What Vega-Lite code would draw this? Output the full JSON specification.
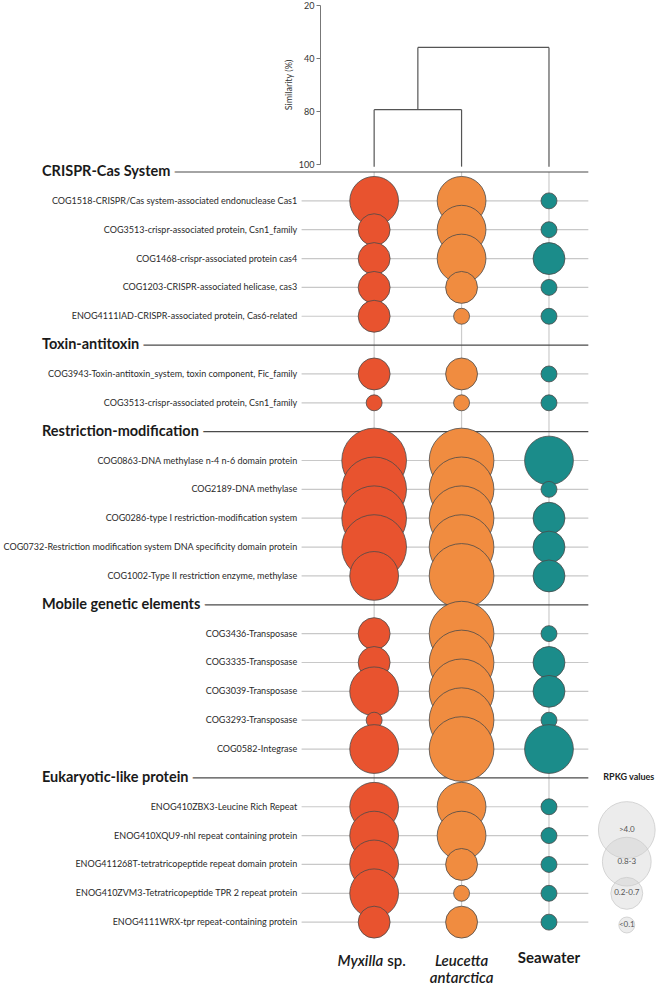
{
  "$schema": "https://vega.github.io/schema/vega-lite/v6.json",
  "width": 667,
  "height": 985,
  "padding": 0,
  "autosize": {"type": "none"},
  "background": "white",
  "config": {"view": {"stroke": null}, "font": "Lato", "text": {"font": "Lato"}},
  "datasets": {
    "functions": [
      {"category": "CRISPR-Cas System", "function": "COG1518-CRISPR/Cas system-associated endonuclease Cas1", "Myxilla": "0.8-3", "Leucetta": "0.8-3", "Seawater": "<0.1"},
      {"category": "CRISPR-Cas System", "function": "COG3513-crispr-associated protein, Csn1_family", "Myxilla": "0.2-0.7", "Leucetta": "0.8-3", "Seawater": "<0.1"},
      {"category": "CRISPR-Cas System", "function": "COG1468-crispr-associated protein cas4", "Myxilla": "0.2-0.7", "Leucetta": "0.8-3", "Seawater": "0.2-0.7"},
      {"category": "CRISPR-Cas System", "function": "COG1203-CRISPR-associated helicase, cas3", "Myxilla": "0.2-0.7", "Leucetta": "0.2-0.7", "Seawater": "<0.1"},
      {"category": "CRISPR-Cas System", "function": "ENOG4111IAD-CRISPR-associated protein, Cas6-related", "Myxilla": "0.2-0.7", "Leucetta": "<0.1", "Seawater": "<0.1"},
      {"category": "Toxin-antitoxin", "function": "COG3943-Toxin-antitoxin_system, toxin component, Fic_family", "Myxilla": "0.2-0.7", "Leucetta": "0.2-0.7", "Seawater": "<0.1"},
      {"category": "Toxin-antitoxin", "function": "COG3513-crispr-associated protein, Csn1_family", "Myxilla": "<0.1", "Leucetta": "<0.1", "Seawater": "<0.1"},
      {"category": "Restriction-modification", "function": "COG0863-DNA methylase n-4 n-6 domain protein", "Myxilla": ">4.0", "Leucetta": ">4.0", "Seawater": "0.8-3"},
      {"category": "Restriction-modification", "function": "COG2189-DNA methylase", "Myxilla": ">4.0", "Leucetta": ">4.0", "Seawater": "<0.1"},
      {"category": "Restriction-modification", "function": "COG0286-type I restriction-modification system", "Myxilla": ">4.0", "Leucetta": ">4.0", "Seawater": "0.2-0.7"},
      {"category": "Restriction-modification", "function": "COG0732-Restriction modification system DNA specificity domain protein", "Myxilla": ">4.0", "Leucetta": ">4.0", "Seawater": "0.2-0.7"},
      {"category": "Restriction-modification", "function": "COG1002-Type II restriction enzyme, methylase", "Myxilla": "0.8-3", "Leucetta": ">4.0", "Seawater": "0.2-0.7"},
      {"category": "Mobile genetic elements", "function": "COG3436-Transposase", "Myxilla": "0.2-0.7", "Leucetta": ">4.0", "Seawater": "<0.1"},
      {"category": "Mobile genetic elements", "function": "COG3335-Transposase", "Myxilla": "0.2-0.7", "Leucetta": ">4.0", "Seawater": "0.2-0.7"},
      {"category": "Mobile genetic elements", "function": "COG3039-Transposase", "Myxilla": "0.8-3", "Leucetta": ">4.0", "Seawater": "0.2-0.7"},
      {"category": "Mobile genetic elements", "function": "COG3293-Transposase", "Myxilla": "<0.1", "Leucetta": ">4.0", "Seawater": "<0.1"},
      {"category": "Mobile genetic elements", "function": "COG0582-Integrase", "Myxilla": "0.8-3", "Leucetta": ">4.0", "Seawater": "0.8-3"},
      {"category": "Eukaryotic-like protein", "function": "ENOG410ZBX3-Leucine Rich Repeat", "Myxilla": "0.8-3", "Leucetta": "0.8-3", "Seawater": "<0.1"},
      {"category": "Eukaryotic-like protein", "function": "ENOG410XQU9-nhl repeat containing protein", "Myxilla": "0.8-3", "Leucetta": "0.8-3", "Seawater": "<0.1"},
      {"category": "Eukaryotic-like protein", "function": "ENOG411268T-tetratricopeptide repeat domain protein", "Myxilla": "0.8-3", "Leucetta": "0.2-0.7", "Seawater": "<0.1"},
      {"category": "Eukaryotic-like protein", "function": "ENOG410ZVM3-Tetratricopeptide TPR 2 repeat protein", "Myxilla": "0.8-3", "Leucetta": "<0.1", "Seawater": "<0.1"},
      {"category": "Eukaryotic-like protein", "function": "ENOG4111WRX-tpr repeat-containing protein", "Myxilla": "0.2-0.7", "Leucetta": "0.2-0.7", "Seawater": "<0.1"}
    ],
    "headers": [
      {"category": "CRISPR-Cas System"},
      {"category": "Toxin-antitoxin"},
      {"category": "Restriction-modification"},
      {"category": "Mobile genetic elements"},
      {"category": "Eukaryotic-like protein"}
    ],
    "samples": [
      {"sample": "Myxilla"},
      {"sample": "Leucetta"},
      {"sample": "Seawater"}
    ],
    "classes": [
      {"rpkg": ">4.0"},
      {"rpkg": "0.8-3"},
      {"rpkg": "0.2-0.7"},
      {"rpkg": "<0.1"}
    ],
    "dendrogram": [
      {"x": 1, "x2": 1, "s": 79, "s2": 101},
      {"x": 2, "x2": 2, "s": 79, "s2": 101},
      {"x": 1, "x2": 2, "s": 79, "s2": 79},
      {"x": 1.5, "x2": 1.5, "s": 36, "s2": 79},
      {"x": 3, "x2": 3, "s": 36, "s2": 101},
      {"x": 1.5, "x2": 3, "s": 36, "s2": 36}
    ]
  },
  "resolve": {"scale": {"y": "independent", "size": "independent"}},
  "layer": [
    {
      "data": {"name": "dendrogram"},
      "mark": {"type": "rule", "color": "#555555", "strokeWidth": 1.2},
      "encoding": {
        "x": {"field": "x", "type": "quantitative", "scale": {"domain": [-3.28, 4.35], "nice": false, "zero": false}, "axis": null},
        "x2": {"field": "x2"},
        "y": {
          "field": "s", "type": "quantitative",
          "scale": {"domain": [20, 40, 80, 100], "range": [5, 58, 111, 164], "nice": false, "zero": false},
          "axis": {
            "orient": "left", "offset": -320, "values": [20, 40, 80, 100],
            "title": "Similarity (%)", "titleFontSize": 9, "titleFontWeight": "normal", "titleColor": "#333", "titlePadding": 5, "titleFont": "Lato",
            "labelFontSize": 9, "labelColor": "#333", "labelFont": "Lato", "labelPadding": 2,
            "tickSize": 4, "tickColor": "#777", "domainColor": "#777", "grid": false
          }
        },
        "y2": {"field": "s2"}
      }
    },
    {
      "layer": [
        {
          "data": {"name": "samples"},
          "transform": [{"calculate": "indexof(['Myxilla','Leucetta','Seawater'], datum.sample) + 1", "as": "col"}],
          "mark": {"type": "rule", "color": "#cccccc", "strokeWidth": 1.2},
          "encoding": {
            "x": {"field": "col", "type": "quantitative", "scale": {"domain": [-3.28, 4.35], "nice": false, "zero": false}, "axis": null},
            "y": {"datum": "CRISPR-Cas System", "type": "nominal",
              "scale": {
                "type": "point", "padding": 0, "range": [172, 951],
                "domain": [
                  "CRISPR-Cas System",
                  "CRISPR-Cas System|COG1518-CRISPR/Cas system-associated endonuclease Cas1",
                  "CRISPR-Cas System|COG3513-crispr-associated protein, Csn1_family",
                  "CRISPR-Cas System|COG1468-crispr-associated protein cas4",
                  "CRISPR-Cas System|COG1203-CRISPR-associated helicase, cas3",
                  "CRISPR-Cas System|ENOG4111IAD-CRISPR-associated protein, Cas6-related",
                  "Toxin-antitoxin",
                  "Toxin-antitoxin|COG3943-Toxin-antitoxin_system, toxin component, Fic_family",
                  "Toxin-antitoxin|COG3513-crispr-associated protein, Csn1_family",
                  "Restriction-modification",
                  "Restriction-modification|COG0863-DNA methylase n-4 n-6 domain protein",
                  "Restriction-modification|COG2189-DNA methylase",
                  "Restriction-modification|COG0286-type I restriction-modification system",
                  "Restriction-modification|COG0732-Restriction modification system DNA specificity domain protein",
                  "Restriction-modification|COG1002-Type II restriction enzyme, methylase",
                  "Mobile genetic elements",
                  "Mobile genetic elements|COG3436-Transposase",
                  "Mobile genetic elements|COG3335-Transposase",
                  "Mobile genetic elements|COG3039-Transposase",
                  "Mobile genetic elements|COG3293-Transposase",
                  "Mobile genetic elements|COG0582-Integrase",
                  "Eukaryotic-like protein",
                  "Eukaryotic-like protein|ENOG410ZBX3-Leucine Rich Repeat",
                  "Eukaryotic-like protein|ENOG410XQU9-nhl repeat containing protein",
                  "Eukaryotic-like protein|ENOG411268T-tetratricopeptide repeat domain protein",
                  "Eukaryotic-like protein|ENOG410ZVM3-Tetratricopeptide TPR 2 repeat protein",
                  "Eukaryotic-like protein|ENOG4111WRX-tpr repeat-containing protein",
                  "samples"
                ]
              },
              "axis": null},
            "y2": {"datum": "Eukaryotic-like protein|ENOG4111WRX-tpr repeat-containing protein"}
          }
        },
        {
          "data": {"name": "functions"},
          "transform": [{"calculate": "datum.category + '|' + datum.function", "as": "key"}],
          "mark": {"type": "rule", "color": "#c8c8c8", "strokeWidth": 1.2},
          "encoding": {
            "x": {"datum": 0.17, "type": "quantitative"},
            "x2": {"datum": 3.45},
            "y": {"field": "key", "type": "nominal", "axis": null}
          }
        },
        {
          "data": {"name": "headers"},
          "mark": {"type": "rule", "color": "#4a4a4a", "strokeWidth": 1.2},
          "encoding": {
            "x": {"datum": -2.8, "type": "quantitative"},
            "x2": {"datum": 3.45},
            "y": {"field": "category", "type": "nominal", "axis": null}
          }
        },
        {
          "data": {"name": "functions"},
          "transform": [
            {"calculate": "datum.category + '|' + datum.function", "as": "key"},
            {"fold": ["Myxilla", "Leucetta", "Seawater"], "as": ["sample", "rpkg"]},
            {"calculate": "indexof(['Myxilla','Leucetta','Seawater'], datum.sample) + 1", "as": "col"}
          ],
          "mark": {"type": "circle", "opacity": 1, "stroke": "#4a4a4a", "strokeWidth": 0.8},
          "encoding": {
            "x": {"field": "col", "type": "quantitative"},
            "y": {"field": "key", "type": "nominal", "axis": null},
            "color": {"field": "sample", "type": "nominal", "scale": {"domain": ["Myxilla", "Leucetta", "Seawater"], "range": ["#E8532F", "#F08C40", "#1B8C8A"]}, "legend": null},
            "size": {
              "field": "rpkg", "type": "ordinal",
              "scale": {"type": "ordinal", "domain": [">4.0", "0.8-3", "0.2-0.7", "<0.1"], "range": [4185, 2376, 1018, 254]},
              "legend": null
            }
          }
        },
        {
          "data": {"name": "headers"},
          "mark": {"type": "text", "align": "left", "baseline": "middle", "fontSize": 14.5, "fontWeight": "bold", "fill": "white", "stroke": "white", "strokeWidth": 10, "strokeJoin": "round"},
          "encoding": {
            "x": {"datum": -2.8, "type": "quantitative"},
            "y": {"field": "category", "type": "nominal", "axis": null},
            "text": {"field": "category"}
          }
        },
        {
          "data": {"name": "headers"},
          "mark": {"type": "text", "align": "left", "baseline": "middle", "fontSize": 14.5, "fontWeight": "bold", "color": "#1a1a1a"},
          "encoding": {
            "x": {"datum": -2.8, "type": "quantitative"},
            "y": {"field": "category", "type": "nominal", "axis": null},
            "text": {"field": "category"}
          }
        },
        {
          "data": {"name": "functions"},
          "transform": [{"calculate": "datum.category + '|' + datum.function", "as": "key"}],
          "mark": {"type": "text", "align": "right", "baseline": "middle", "fontSize": 9, "color": "#2a2a2a"},
          "encoding": {
            "x": {"datum": 0.12, "type": "quantitative"},
            "y": {"field": "key", "type": "nominal", "axis": null},
            "text": {"field": "function"}
          }
        },
        {
          "data": {"values": [{}]},
          "mark": {"type": "text", "align": "right", "baseline": "alphabetic", "fontSize": 15, "fontStyle": "italic", "fontWeight": 600, "color": "#1a1a1a", "dx": 9, "dy": 15},
          "encoding": {
            "x": {"datum": 1, "type": "quantitative"},
            "y": {"datum": "samples", "type": "nominal"},
            "text": {"value": "Myxilla"}
          }
        },
        {
          "data": {"values": [{}]},
          "mark": {"type": "text", "align": "left", "baseline": "alphabetic", "fontSize": 15, "fontWeight": 600, "color": "#1a1a1a", "dx": 13, "dy": 15},
          "encoding": {
            "x": {"datum": 1, "type": "quantitative"},
            "y": {"datum": "samples", "type": "nominal"},
            "text": {"value": "sp."}
          }
        },
        {
          "data": {"values": [{}]},
          "mark": {"type": "text", "align": "center", "baseline": "alphabetic", "fontSize": 15, "fontStyle": "italic", "fontWeight": 600, "color": "#1a1a1a", "dy": 15, "lineBreak": "\n", "lineHeight": 17},
          "encoding": {
            "x": {"datum": 2, "type": "quantitative"},
            "y": {"datum": "samples", "type": "nominal"},
            "text": {"value": "Leucetta\nantarctica"}
          }
        },
        {
          "data": {"values": [{}]},
          "mark": {"type": "text", "align": "center", "baseline": "alphabetic", "fontSize": 15, "fontWeight": "bold", "color": "#1a1a1a", "dy": 12},
          "encoding": {
            "x": {"datum": 3, "type": "quantitative"},
            "y": {"datum": "samples", "type": "nominal"},
            "text": {"value": "Seawater"}
          }
        }
      ]
    },
    {
      "data": {"name": "classes"},
      "layer": [
        {
          "mark": {"type": "circle", "fill": "#cfcfcf", "fillOpacity": 0.4, "stroke": "#cccccc", "strokeWidth": 1, "strokeOpacity": 0.8},
          "encoding": {
            "x": {"datum": 3.89, "type": "quantitative"},
            "y": {"field": "rpkg", "type": "nominal", "sort": null, "scale": {"type": "point", "padding": 0, "domain": [">4.0", "0.8-3", "0.2-0.7", "<0.1"], "range": [830, 925]}, "axis": null},
            "size": {"field": "rpkg", "type": "ordinal", "scale": {"type": "ordinal", "domain": [">4.0", "0.8-3", "0.2-0.7", "<0.1"], "range": [3217, 2376, 1018, 254]}, "legend": null}
          }
        },
        {
          "mark": {"type": "text", "align": "center", "baseline": "middle", "fontSize": 8, "color": "#555555"},
          "encoding": {
            "x": {"datum": 3.89, "type": "quantitative"},
            "y": {"field": "rpkg", "type": "nominal"},
            "text": {"field": "rpkg"}
          }
        },
        {
          "data": {"values": [{}]},
          "mark": {"type": "text", "align": "center", "baseline": "middle", "fontSize": 9, "fontWeight": "bold", "color": "#222222", "dy": -53, "dx": 2},
          "encoding": {
            "x": {"datum": 3.89, "type": "quantitative"},
            "y": {"datum": ">4.0", "type": "nominal"},
            "text": {"value": "RPKG values"}
          }
        }
      ]
    }
  ]
}
